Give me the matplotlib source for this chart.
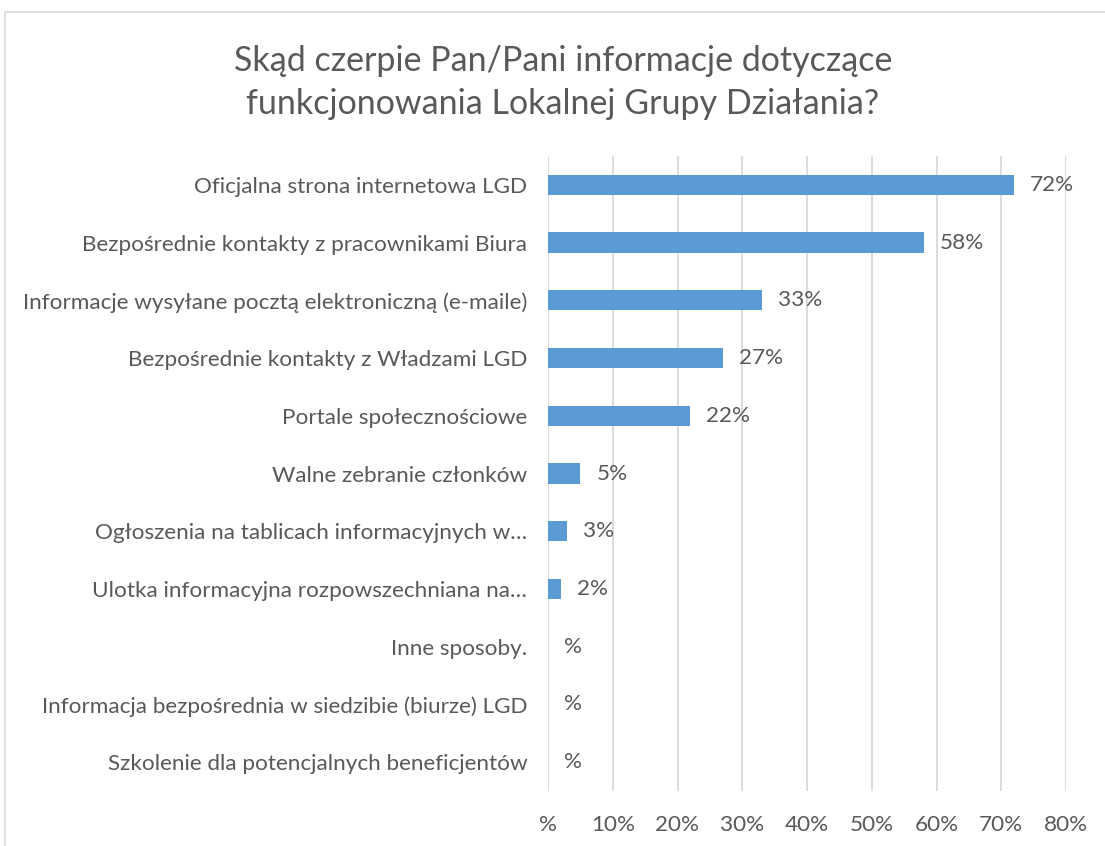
import matplotlib
matplotlib.use("Agg")
import matplotlib.pyplot as plt
from matplotlib.patches import Rectangle

categories = [
    "Oficjalna strona internetowa LGD",
    "Bezpośrednie kontakty z pracownikami Biura",
    "Informacje wysyłane pocztą elektroniczną (e-maile)",
    "Bezpośrednie kontakty z Władzami LGD",
    "Portale społecznościowe",
    "Walne zebranie członków",
    "Ogłoszenia na tablicach informacyjnych w…",
    "Ulotka informacyjna rozpowszechniana na…",
    "Inne sposoby.",
    "Informacja bezpośrednia w siedzibie (biurze) LGD",
    "Szkolenie dla potencjalnych beneficjentów",
]
values = [0.72, 0.58, 0.33, 0.27, 0.22, 0.05, 0.03, 0.02, 0.0, 0.0, 0.0]
xticks = [0.0, 0.1, 0.2, 0.3, 0.4, 0.5, 0.6, 0.7, 0.8]

TEXT = "#595959"
BAR = "#5B9BD5"
GRID = "#D9D9D9"
W, H = 1105, 846
FS = 16.2

plt.rcParams["font.family"] = ["Lato", "DejaVu Sans"]

fig = plt.figure(figsize=(W / 100, H / 100), dpi=100)
fig.patch.set_facecolor("white")

# chart area border (Excel style), cut at right/bottom
fig.patches.append(Rectangle((4.5 / W, -0.1), 1.2, 1 - 12 / H + 0.1,
                             transform=fig.transFigure, fill=False,
                             edgecolor=GRID, lw=1.2))

ax = fig.add_axes([548 / W, 1 - 791 / H, (1066 - 548) / W, (791 - 156) / H])

def pct(v):
    return "%" if round(v * 100) == 0 else f"{round(v * 100)}%"

y = list(range(len(categories)))
ax.barh(y, values, height=0.35, color=BAR, zorder=3)
for yi, v in zip(y, values):
    ax.annotate(pct(v), (v, yi), xytext=(16, 0), textcoords="offset pixels",
                va="center", ha="left", fontsize=FS, color=TEXT)

ax.set_xlim(0, 0.8)
ax.set_ylim(len(categories) - 0.5, -0.5)
ax.set_xticks(xticks)
ax.set_xticklabels([pct(t) for t in xticks])
ax.set_yticks(y)
ax.set_yticklabels(categories)
ax.tick_params(axis="both", length=0, labelsize=FS, labelcolor=TEXT)
ax.tick_params(axis="x", pad=17)
ax.tick_params(axis="y", pad=15)
ax.grid(axis="x", color=GRID, lw=1.3, zorder=0)
ax.set_axisbelow(True)
for s in ax.spines.values():
    s.set_visible(False)

fig.text(563 / W, 1 - 61 / H, "Skąd czerpie Pan/Pani informacje dotyczące",
         ha="center", va="center", fontsize=24.5, color=TEXT)
fig.text(563 / W, 1 - 104 / H, "funkcjonowania Lokalnej Grupy Działania?",
         ha="center", va="center", fontsize=24.5, color=TEXT)

fig.savefig("out.png", dpi=100)
